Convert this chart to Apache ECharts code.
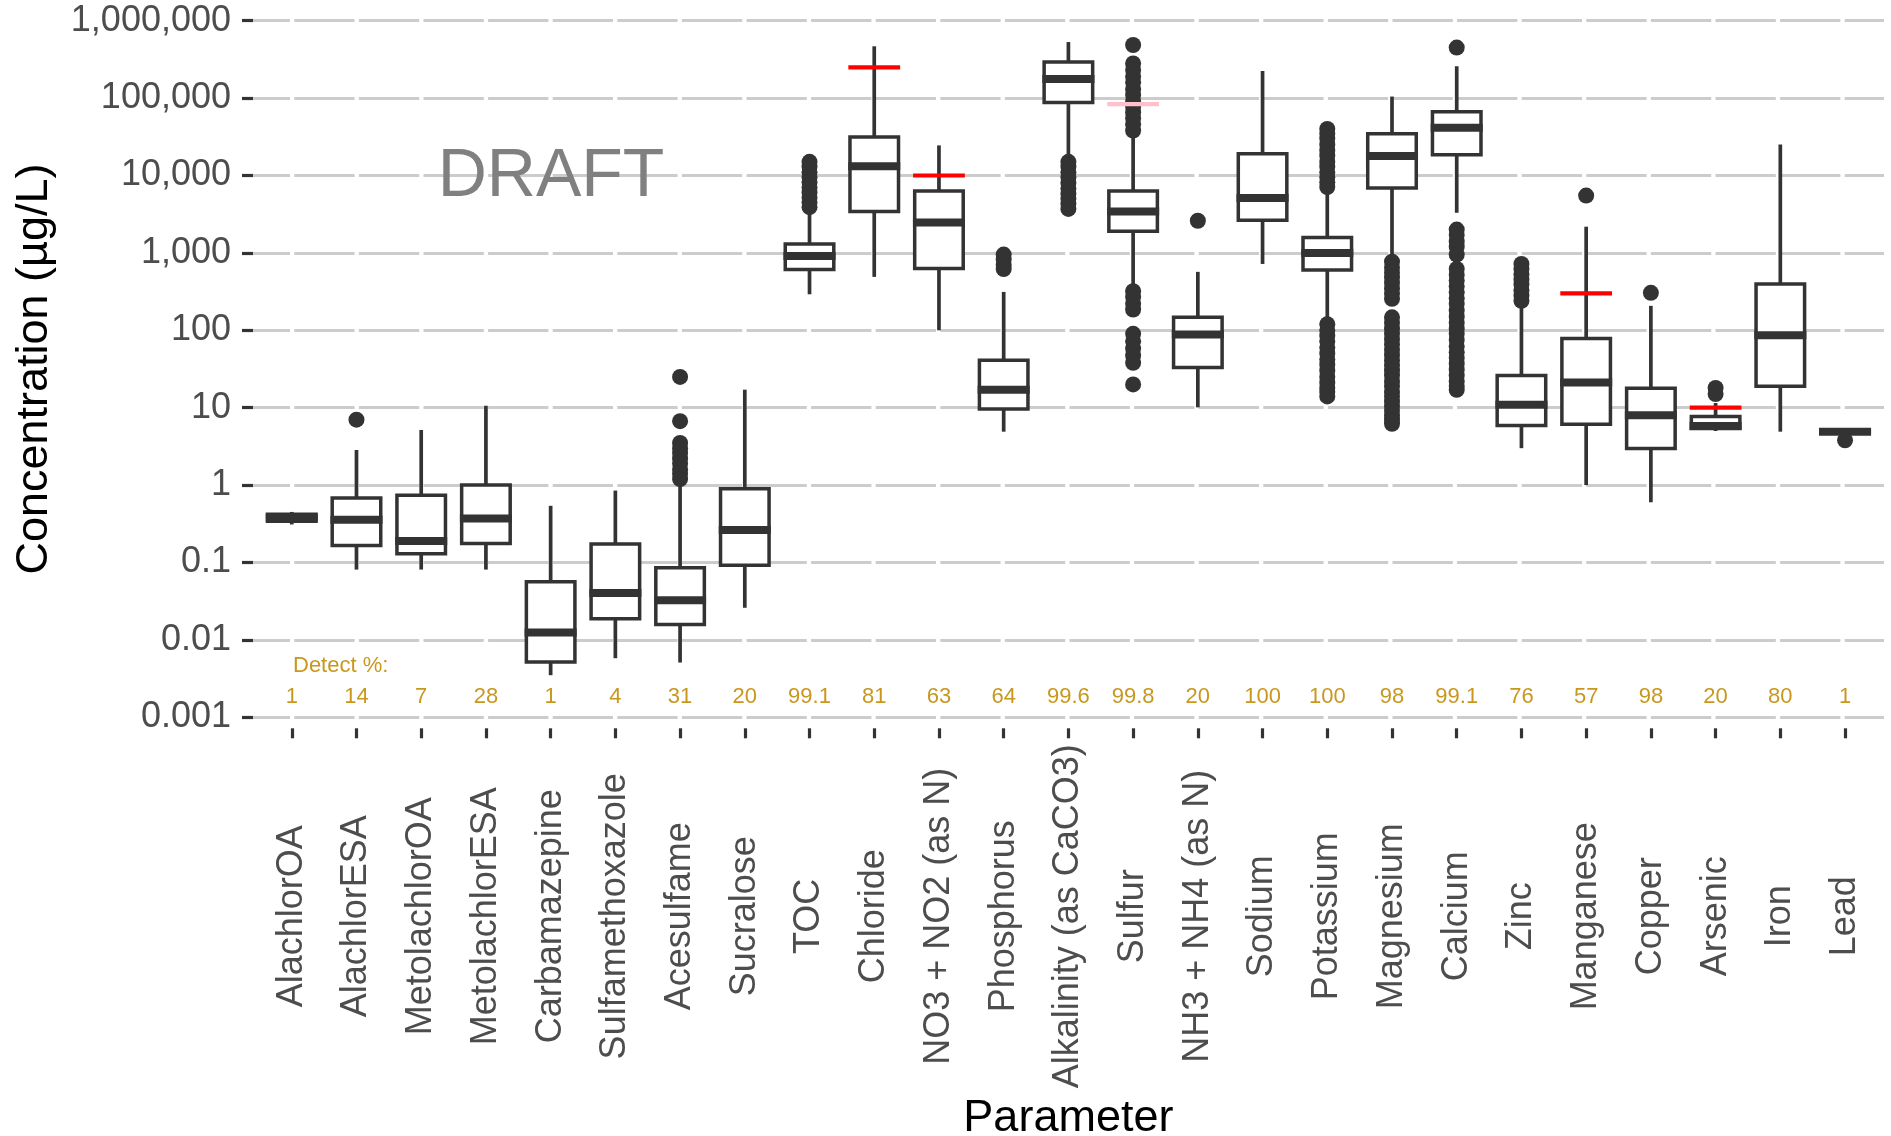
<!DOCTYPE html>
<html>
<head>
<meta charset="utf-8">
<script src="https://cdn.jsdelivr.net/npm/echarts@6/dist/echarts.min.js"></script>
<style>
html,body{margin:0;padding:0;background:#ffffff;}
#chart{width:1891px;height:1136px;}
</style>
</head>
<body>
<div id="chart"></div>
<script>
// ---------------- DATA ----------------
const categories = ['AlachlorOA','AlachlorESA','MetolachlorOA','MetolachlorESA','Carbamazepine','Sulfamethoxazole','Acesulfame','Sucralose','TOC','Chloride','NO3 + NO2 (as N)','Phosphorus','Alkalinity (as CaCO3)','Sulfur','NH3 + NH4 (as N)','Sodium','Potassium','Magnesium','Calcium','Zinc','Manganese','Copper','Arsenic','Iron','Lead'];
const detectPct = ['1','14','7','28','1','4','31','20','99.1','81','63','64','99.6','99.8','20','100','100','98','99.1','76','57','98','20','80','1'];

const whiskerLow  = [0.31, 0.081, 0.081, 0.081, 0.0035, 0.0058, 0.0051, 0.026, 292, 490, 100, 4.9, 17000, 336, 10.1, 720, 137, 720, 3300, 3.0, 1.0, 0.6, 5.0, 4.9, 4.6];
const quartile1   = [0.34, 0.166, 0.13, 0.176, 0.0052, 0.0187, 0.0158, 0.092, 610, 3435, 627, 9.6, 87500, 1900, 33, 2640, 601, 6870, 18600, 5.9, 6.1, 2.96, 5.4, 18.9, 4.75];
const medians     = [0.38, 0.356, 0.19, 0.37, 0.0125, 0.0405, 0.0325, 0.262, 910, 13150, 2465, 17.1, 177000, 3435, 88, 5130, 1000, 17800, 41500, 10.9, 21.1, 8.0, 5.8, 86.5, 4.9];
const quartile3   = [0.42, 0.68, 0.74, 1.0, 0.0565, 0.173, 0.0857, 0.90, 1303, 31500, 6310, 41, 292000, 6310, 147, 19100, 1585, 34700, 66400, 26, 78.5, 17.9, 7.7, 397, 5.1];
const whiskerHigh = [0.45, 2.84, 5.15, 10.6, 0.54, 0.85, 1.08, 17.1, 3435, 467000, 24500, 313, 530000, 34000, 569, 224000, 6140, 104700, 258000, 207, 2180, 207, 11.5, 25200, 5.3];

const outliers = [
  [],
  [7],
  [],
  [],
  [],
  [],
  [25, 6.7, 3.5, 3.0, 2.6, 2.2, 1.9, 1.6, 1.4, 1.2],
  [],
  [15000, 13000, 11000, 9500, 8200, 7000, 6000, 5200, 4500, 3900],
  [],
  [],
  [950, 820, 700, 620],
  [15000, 13000, 11000, 9500, 8000, 6800, 5800, 5000, 4300, 3700],
  [485000, 280000, 230000, 190000, 160000, 130000, 110000, 90000, 77000, 65000, 55000, 46000, 38000, 320, 270, 220, 185, 90, 72, 58, 47, 38, 20],
  [2600],
  [],
  [40000, 35000, 30000, 25000, 21000, 18000, 15000, 13000, 11000, 9500, 8200, 7100, 120, 100, 85, 72, 60, 50, 42, 36, 30, 25, 21, 18, 16, 14],
  [770, 650, 560, 480, 410, 350, 300, 255, 147, 125, 105, 90, 77, 66, 56, 48, 41, 35, 30, 26, 22, 19, 16, 14, 12, 10.5, 9.2, 8, 7, 6.2],
  [450000, 2000, 1700, 1400, 1200, 950, 620, 520, 440, 370, 310, 260, 220, 180, 150, 125, 105, 90, 75, 62, 52, 44, 37, 31, 26, 22, 19, 17],
  [720, 620, 530, 450, 390, 330, 280, 240],
  [5500],
  [305],
  [18, 15],
  [],
  [3.8]
];

// guideline values (standard = primary limit, advisory = secondary)
const refParams = ['Chloride', 'NO3 + NO2 (as N)', 'Sulfur', 'Manganese', 'Arsenic'];
const refValues = [250000, 10000, 83400, 300, 10];
const refKinds  = ['standard', 'standard', 'advisory', 'standard', 'standard'];

const yTicks = [0.001, 0.01, 0.1, 1, 10, 100, 1000, 10000, 100000, 1000000];

// ---------------- CHART ----------------
const FONT = "'Liberation Sans', Arial, Helvetica, sans-serif";
const INK = '#333333';
const TEXT_GREY = '#4D4D4D';
const GOLD = '#C9971C';
const KIND_COLOR = { standard: '#FF0000', advisory: '#FFC0CB' };

const boxData = categories.map((c, i) => [i, whiskerLow[i], quartile1[i], medians[i], quartile3[i], whiskerHigh[i]]);
const outlierData = [];
outliers.forEach((arr, i) => arr.forEach(v => outlierData.push([i, v])));
const refData = refParams.map((p, k) => [categories.indexOf(p), refValues[k], k]);

function fmtTick(v) {
  const e = Math.round(Math.log10(v));
  if (e >= 0) return String(Math.pow(10, e)).replace(/\B(?=(\d{3})+(?!\d))/g, ',');
  return Math.pow(10, e).toFixed(-e);
}

function bandWidth(api) {
  return Math.abs(api.coord([1, 1])[0] - api.coord([0, 1])[0]);
}

function renderBox(params, api) {
  const i = api.value(0);
  const lo = api.coord([i, api.value(1)]);
  const q1 = api.coord([i, api.value(2)]);
  const md = api.coord([i, api.value(3)]);
  const q3 = api.coord([i, api.value(4)]);
  const hi = api.coord([i, api.value(5)]);
  const w = bandWidth(api) * 0.75;
  const cx = md[0];
  const lw = 3.5;
  return {
    type: 'group',
    children: [
      { type: 'line', shape: { x1: cx, y1: hi[1], x2: cx, y2: q3[1] }, style: { stroke: INK, lineWidth: 3.7 } },
      { type: 'line', shape: { x1: cx, y1: q1[1], x2: cx, y2: lo[1] }, style: { stroke: INK, lineWidth: 3.7 } },
      { type: 'rect', shape: { x: cx - w / 2, y: q3[1], width: w, height: q1[1] - q3[1] }, style: { fill: '#ffffff', stroke: INK, lineWidth: lw } },
      { type: 'line', shape: { x1: cx - w / 2 - lw / 2, y1: md[1], x2: cx + w / 2 + lw / 2, y2: md[1] }, style: { stroke: INK, lineWidth: 8 } }
    ]
  };
}

function renderRef(params, api) {
  const i = api.value(0);
  const p = api.coord([i, api.value(1)]);
  const kind = refKinds[api.value(2)];
  const w = bandWidth(api) * 0.8;
  return {
    type: 'line',
    shape: { x1: p[0] - w / 2, y1: p[1], x2: p[0] + w / 2, y2: p[1] },
    style: { stroke: KIND_COLOR[kind], lineWidth: 4.2 }
  };
}

const GRID_TOP = 20.7;
const GRID_BOTTOM = 1136 - 717.3;

const chart = echarts.init(document.getElementById('chart'), null, { renderer: 'canvas' });
chart.setOption({
  animation: false,
  backgroundColor: '#ffffff',
  textStyle: { fontFamily: FONT },
  grid: [
    { left: 253, right: 7, top: GRID_TOP, bottom: GRID_BOTTOM, containLabel: false, outerBoundsMode: 'none' },
    { left: 259.4, right: 13.6, top: GRID_TOP, bottom: GRID_BOTTOM, containLabel: false, outerBoundsMode: 'none' }
  ],
  xAxis: [
    { gridIndex: 0, type: 'value', show: false, min: 0, max: 1 },
    {
      gridIndex: 1, type: 'category', data: categories, position: 'bottom', offset: 11,
      axisLine: { show: false },
      axisTick: { show: true, alignWithLabel: true, length: 10, lineStyle: { color: INK, width: 3.2 } },
      axisLabel: { interval: 0, rotate: 90, align: 'center', verticalAlign: 'middle', margin: 188,
                   fontSize: 36, color: TEXT_GREY, fontFamily: FONT, hideOverlap: false },
      splitLine: { show: false },
      name: 'Parameter', nameLocation: 'middle', nameGap: 386,
      nameTextStyle: { fontSize: 45, color: '#000000', fontFamily: FONT, align: 'center', verticalAlign: 'middle' }
    },
    {
      gridIndex: 1, type: 'category', data: categories, position: 'bottom', offset: 0,
      axisLine: { show: false }, axisTick: { show: false }, splitLine: { show: false },
      axisLabel: { inside: true, interval: 0, margin: 20.5, fontSize: 22, color: GOLD, fontFamily: FONT,
                   verticalAlign: 'middle', hideOverlap: false,
                   formatter: (v, idx) => detectPct[idx] }
    }
  ],
  yAxis: [
    {
      gridIndex: 0, type: 'log', logBase: 10, min: yTicks[0], max: yTicks[yTicks.length - 1], splitNumber: 9,
      axisLine: { show: false },
      axisTick: { show: true, length: 11, lineStyle: { color: INK, width: 3.2 } },
      axisLabel: { fontSize: 36, color: TEXT_GREY, fontFamily: FONT, margin: 22, formatter: fmtTick,
                   showMinLabel: true, showMaxLabel: true, hideOverlap: false },
      splitLine: { show: true, lineStyle: { color: '#CCCCCC', width: 3.2, type: [60.3, 4.3], dashOffset: 23.3 } },
      name: 'Concentration (µg/L)', nameLocation: 'middle', nameGap: 218, nameRotate: 90,
      nameTextStyle: { fontSize: 45, color: '#000000', fontFamily: FONT, align: 'center', verticalAlign: 'middle' }
    },
    { gridIndex: 1, type: 'log', logBase: 10, min: yTicks[0], max: yTicks[yTicks.length - 1], show: false, splitLine: { show: false } }
  ],
  graphic: [
    { type: 'text', x: 551, y: 177, z: 1,
      style: { text: 'DRAFT', fontSize: 68, fontFamily: FONT, fill: '#808080', align: 'center', verticalAlign: 'middle' } },
    { type: 'text', x: 293, y: 666,
      style: { text: 'Detect %:', fontSize: 22, fontFamily: FONT, fill: GOLD, align: 'left', verticalAlign: 'middle' } }
  ],
  series: [
    { type: 'custom', name: 'box', xAxisIndex: 1, yAxisIndex: 1, data: boxData,
      encode: { x: 0, y: [1, 2, 3, 4, 5] }, renderItem: renderBox, z: 2, silent: true },
    { type: 'scatter', name: 'outliers', xAxisIndex: 1, yAxisIndex: 1, data: outlierData,
      symbol: 'circle', symbolSize: 16, itemStyle: { color: INK, opacity: 1 }, z: 3, silent: true },
    { type: 'custom', name: 'guidelines', xAxisIndex: 1, yAxisIndex: 1, data: refData,
      encode: { x: 0, y: 1 }, renderItem: renderRef, z: 4, silent: true }
  ]
});
</script>
</body>
</html>
